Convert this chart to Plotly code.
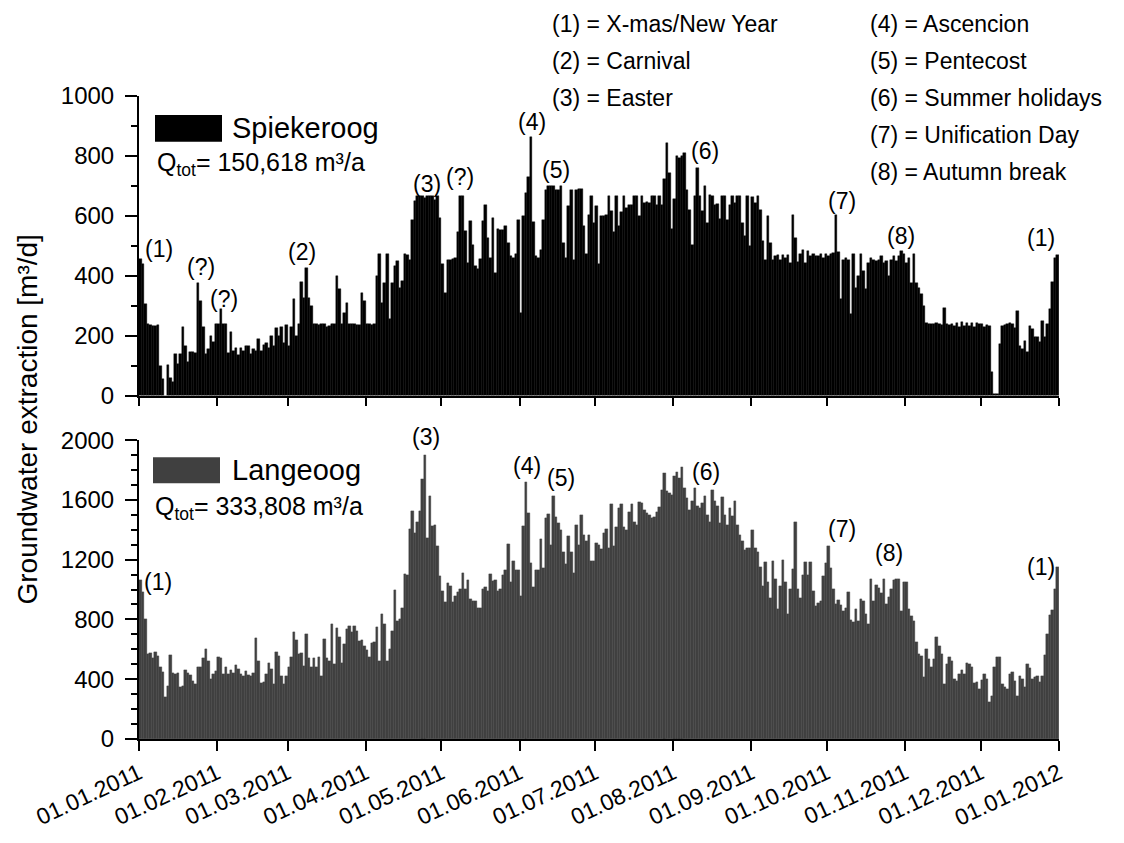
import plotly.graph_objects as go

# ---------------- data (daily values, m³/d) ----------------
tick_labels = ["01.01.2011", "01.02.2011", "01.03.2011", "01.04.2011", "01.05.2011",
               "01.06.2011", "01.07.2011", "01.08.2011", "01.09.2011", "01.10.2011",
               "01.11.2011", "01.12.2011", "01.01.2012"]
month_days = [31, 28, 31, 30, 31, 30, 31, 31, 30, 31, 30, 31]

spk_jan = [456, 440, 305, 240, 236, 232, 232, 236, 100, 55, 0, 103, 60, 45, 140, 105, 138, 230, 165, 112,
           147, 145, 143, 375, 315, 230, 138, 155, 200, 178, 240]
spk_feb = [240, 290, 240, 240, 143, 212, 150, 158, 135, 160, 150, 165, 165, 140, 155, 150, 190, 150, 168, 175,
           160, 200, 165, 225, 200, 230, 175, 235]
spk_mar = [165, 230, 323, 200, 240, 380, 327, 427, 325, 300, 240, 238, 235, 240, 240, 230, 232, 238, 240, 400,
           355, 240, 277, 308, 238, 240, 238, 235, 236, 341, 315]
spk_apr = [238, 240, 236, 238, 400, 473, 310, 377, 473, 255, 377, 432, 449, 360, 382, 473, 469, 454, 587, 650,
           665, 665, 665, 660, 665, 665, 665, 654, 667, 593]
spk_may = [438, 341, 452, 454, 456, 458, 546, 667, 667, 548, 443, 582, 504, 434, 423, 456, 582, 637, 526, 460,
           593, 410, 556, 554, 554, 565, 510, 465, 460, 474, 587]
spk_jun = [277, 600, 676, 729, 864, 578, 465, 460, 487, 587, 687, 701, 701, 701, 687, 687, 701, 510, 460, 634,
           687, 454, 687, 690, 690, 567, 473, 604, 667, 576]
spk_jul = [632, 438, 598, 598, 604, 667, 615, 545, 665, 567, 612, 665, 626, 637, 637, 667, 667, 598, 667, 643,
           645, 643, 667, 667, 637, 667, 637, 722, 842, 742, 556]
spk_aug = [656, 801, 792, 801, 811, 685, 620, 503, 667, 759, 667, 615, 700, 576, 670, 667, 637, 640, 589, 667,
           667, 587, 637, 665, 643, 667, 667, 576, 532, 665, 501]
spk_sep = [663, 643, 665, 618, 515, 454, 598, 510, 454, 465, 468, 452, 468, 460, 468, 443, 604, 526, 445, 471,
           485, 443, 482, 465, 471, 465, 465, 471, 460, 471]
spk_oct = [465, 471, 476, 604, 479, 321, 454, 460, 454, 271, 471, 360, 399, 471, 416, 355, 443, 460, 454, 449,
           454, 465, 443, 449, 399, 454, 465, 449, 465, 482, 471]
spk_nov = [443, 460, 377, 471, 377, 360, 338, 299, 244, 238, 238, 238, 244, 238, 235, 294, 238, 235, 238, 233,
           244, 230, 246, 233, 244, 233, 244, 230, 244, 238]
spk_dec = [238, 230, 236, 232, 78, 5, 5, 172, 233, 235, 238, 244, 238, 227, 283, 166, 155, 183, 144, 233,
           222, 194, 194, 180, 250, 195, 240, 290, 380, 460, 470]

lgo_jan = [1060, 980, 800, 565, 575, 540, 580, 555, 480, 450, 280, 355, 560, 444, 437, 444, 344, 355, 460, 444,
           430, 389, 367, 478, 482, 544, 600, 522, 400, 433, 455]
lgo_feb = [549, 544, 433, 482, 437, 460, 442, 495, 467, 433, 422, 455, 429, 422, 444, 673, 522, 371, 378, 433,
           509, 467, 367, 584, 553, 422, 367, 422]
lgo_mar = [482, 549, 718, 664, 567, 578, 489, 700, 544, 482, 544, 478, 549, 422, 667, 544, 522, 771, 500, 744,
           682, 511, 633, 733, 755, 718, 755, 722, 655, 660, 620]
lgo_apr = [593, 549, 644, 649, 749, 522, 833, 767, 522, 600, 722, 995, 789, 800, 878, 1104, 1100, 1407, 1527, 1378,
           1451, 1527, 1740, 1900, 1344, 1622, 1422, 1429, 1289, 1089]
lgo_may = [989, 918, 1044, 1022, 918, 955, 980, 1000, 1111, 1000, 1060, 933, 926, 922, 878, 878, 1000, 1015, 989, 1104,
           1055, 1060, 993, 1000, 1100, 1133, 1304, 1051, 1193, 1133, 1133]
lgo_jun = [955, 1422, 1722, 1511, 1178, 1015, 1133, 1133, 1340, 1144, 1478, 1504, 1300, 1622, 1482, 1444, 1400, 1251, 1167, 1355,
           1250, 1111, 1433, 1300, 1500, 1367, 1322, 1367, 1189, 1189]
lgo_jul = [1311, 1300, 1273, 1378, 1407, 1278, 1571, 1289, 1416, 1544, 1571, 1416, 1400, 1518, 1571, 1451, 1429, 1584, 1578, 1533,
           1511, 1495, 1478, 1482, 1520, 1549, 1667, 1782, 1660, 1644, 1633]
lgo_aug = [1756, 1784, 1749, 1822, 1682, 1611, 1533, 1589, 1682, 1556, 1544, 1580, 1622, 1495, 1451, 1667, 1593, 1556, 1444, 1616,
           1495, 1429, 1544, 1489, 1589, 1433, 1367, 1327, 1267, 1278, 1278]
lgo_sep = [1395, 1278, 1251, 1150, 1022, 1184, 1051, 940, 1193, 1073, 867, 1022, 1200, 1051, 833, 1000, 1140, 1451, 1000, 940,
           1100, 1184, 1100, 1184, 989, 889, 911, 926, 1089, 1178]
lgo_oct = [1289, 1144, 1000, 900, 929, 895, 855, 878, 984, 793, 784, 867, 789, 933, 922, 833, 767, 1067, 922, 1033,
           1011, 978, 1067, 900, 950, 1000, 1060, 1067, 1067, 855, 1051]
lgo_nov = [1051, 867, 822, 789, 650, 567, 555, 415, 600, 533, 478, 533, 682, 622, 571, 367, 500, 549, 522, 400,
           389, 433, 460, 437, 511, 500, 478, 371, 380, 333]
lgo_dec = [393, 437, 400, 244, 289, 482, 549, 549, 367, 350, 333, 433, 451, 389, 289, 422, 400, 344, 504, 473,
           400, 416, 422, 380, 422, 562, 700, 830, 860, 1000, 1150]

spiekeroog = (spk_jan + spk_feb + spk_mar + spk_apr + spk_may + spk_jun +
              spk_jul + spk_aug + spk_sep + spk_oct + spk_nov + spk_dec)
langeoog = (lgo_jan + lgo_feb + lgo_mar + lgo_apr + lgo_may + lgo_jun +
            lgo_jul + lgo_aug + lgo_sep + lgo_oct + lgo_nov + lgo_dec)
assert len(spiekeroog) == 365 and len(langeoog) == 365, (len(spiekeroog), len(langeoog))

month_starts = [0]
for n in month_days:
    month_starts.append(month_starts[-1] + n)
day_centres = [d + 0.5 for d in range(365)]

# ---------------- layout geometry (pixels) ----------------
W, H = 1124, 843
L, R, T, B = 139, 1059, 96, 742


def px(x):
    return (x - L) / (R - L)


def py(y):
    return (B - y) / (B - T)


FONT = "Liberation Sans, Arial, sans-serif"

fig = go.Figure()
fig.add_trace(go.Bar(x=day_centres, y=spiekeroog, width=1.0, xaxis="x", yaxis="y",
                     marker=dict(color="#000000", line=dict(width=0.4, color="#000000")),
                     showlegend=False, name="Spiekeroog"))
fig.add_trace(go.Bar(x=day_centres, y=langeoog, width=1.0, xaxis="x2", yaxis="y2",
                     marker=dict(color="#404040", line=dict(width=0.4, color="#404040")),
                     showlegend=False, name="Langeoog"))

axis_common = dict(showline=True, linewidth=2, linecolor="black", showgrid=False, zeroline=False,
                   ticks="outside", tickwidth=2, tickcolor="black")
yfont = dict(family=FONT, size=24, color="black")
xfont = dict(family=FONT, size=23, color="black")

fig.update_layout(
    width=W, height=H,
    margin=dict(l=L, r=W - R, t=T, b=H - B),
    paper_bgcolor="white", plot_bgcolor="white",
    bargap=0,
    font=dict(family=FONT, size=23, color="black"),
    xaxis=dict(domain=[0, 1], anchor="y", range=[0, 365], tickvals=month_starts,
               showticklabels=False, ticklen=8, **axis_common),
    yaxis=dict(domain=[py(397), 1], anchor="x", range=[0, 1000], tick0=0, dtick=200,
               ticklen=12, ticklabelstandoff=6, tickfont=yfont,
               minor=dict(dtick=100, ticklen=6, tickwidth=2, ticks="outside", tickcolor="black"),
               **axis_common),
    xaxis2=dict(domain=[0, 1], anchor="y2", range=[0, 365], tickvals=month_starts,
                ticktext=tick_labels, tickangle=-25, ticklen=10, tickfont=xfont, **axis_common),
    yaxis2=dict(domain=[0, py(441.7)], anchor="x2", range=[0, 2000], tick0=0, dtick=400,
                ticklen=12, ticklabelstandoff=6, tickfont=yfont,
                minor=dict(dtick=100, ticklen=6, tickwidth=2, ticks="outside", tickcolor="black"),
                **axis_common),
)

ann = []


def text(x, y, s, size=23, xanchor="center"):
    ann.append(dict(x=px(x), y=py(y), xref="paper", yref="paper", text=s, showarrow=False,
                    xanchor=xanchor, yanchor="middle", font=dict(family=FONT, size=size, color="black")))


# holiday key
key_left = ["(1) = X-mas/New Year", "(2) = Carnival", "(3) = Easter"]
key_right = ["(4) = Ascencion", "(5) = Pentecost", "(6) = Summer holidays",
             "(7) = Unification Day", "(8) = Autumn break"]
rows = [24, 61, 98, 135, 172]
for i, s in enumerate(key_left):
    text(550, rows[i], s, size=23, xanchor="left")
for i, s in enumerate(key_right):
    text(868, rows[i], s, size=23, xanchor="left")

# event markers, top panel
for s, x, y in [("(1)", 159, 250), ("(?)", 201, 268), ("(?)", 224, 300), ("(2)", 302, 253),
                ("(3)", 427, 184), ("(?)", 460, 177), ("(4)", 532, 122), ("(5)", 556, 170),
                ("(6)", 705, 151), ("(7)", 842, 201), ("(8)", 901, 237), ("(1)", 1041, 239)]:
    text(x, y, s, size=23)
# event markers, bottom panel
for s, x, y in [("(1)", 158, 584), ("(3)", 426, 439), ("(4)", 527, 468), ("(5)", 561, 480),
                ("(6)", 706, 474), ("(7)", 842, 531), ("(8)", 889, 555), ("(1)", 1041, 569)]:
    text(x, y, s, size=23)

# legends
text(230, 128, "Spiekeroog", size=29, xanchor="left")
text(155, 164, "Q<sub>tot</sub>= 150,618 m³/a", size=25, xanchor="left")
text(230, 472, "Langeoog", size=29, xanchor="left")
text(153, 510, "Q<sub>tot</sub>= 333,808 m³/a", size=25, xanchor="left")

# y title
ann.append(dict(x=px(27), y=py(421), xref="paper", yref="paper", text="Groundwater extraction [m³/d]",
                textangle=-90, showarrow=False, xanchor="center", yanchor="middle",
                font=dict(family=FONT, size=28, color="black")))

fig.update_layout(annotations=ann)

fig.update_layout(shapes=[
    dict(type="rect", xref="paper", yref="paper", x0=px(155), x1=px(222), y0=py(142), y1=py(115),
         fillcolor="#000000", line=dict(width=0)),
    dict(type="rect", xref="paper", yref="paper", x0=px(153), x1=px(220), y0=py(485), y1=py(459),
         fillcolor="#404040", line=dict(width=0)),
])

fig.write_html("out.html")
